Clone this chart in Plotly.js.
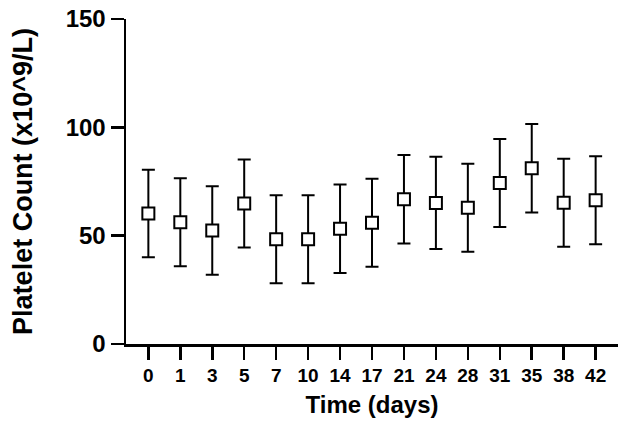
<!DOCTYPE html>
<html>
<head>
<meta charset="utf-8">
<script src="https://cdn.plot.ly/plotly-3.0.1.min.js"></script>
<style>
  html, body { margin: 0; padding: 0; background: #fff; }
  #chart { width: 624px; height: 429px; }
</style>
</head>
<body>
<div id="chart"></div>
<script>
// Time points (days) and platelet count mean +/- error
const days = ['0', '1', '3', '5', '7', '10', '14', '17', '21', '24', '28', '31', '35', '38', '42'];
const meanCount = [60.2, 56.2, 52.4, 64.8, 48.3, 48.3, 53.2, 56.0, 66.8, 65.1, 62.9, 74.3, 81.1, 65.2, 66.3];
const errCount = [20.2, 20.3, 20.4, 20.3, 20.3, 20.3, 20.4, 20.3, 20.4, 21.3, 20.3, 20.3, 20.4, 20.3, 20.3];
const yTicks = [0, 50, 100, 150];

const FONT = 'Liberation Sans, Arial, Helvetica, sans-serif';

const trace = {
    x: days,
    y: meanCount,
    type: 'scatter',
    mode: 'markers',
    marker: {
        symbol: 'square',
        size: 12,
        color: '#ffffff',
        line: { color: '#000000', width: 2 }
    },
    error_y: {
        type: 'data',
        array: errCount,
        symmetric: true,
        color: '#000000',
        thickness: 2,
        width: 6.5
    },
    hoverinfo: 'x+y',
    showlegend: false
};

const layout = {
    width: 624,
    height: 429,
    margin: { l: 126, r: 6, t: 19, b: 85 },
    paper_bgcolor: '#ffffff',
    plot_bgcolor: '#ffffff',
    font: { family: FONT, color: '#000000' },
    xaxis: {
        type: 'category',
        categoryorder: 'array',
        categoryarray: days,
        range: [-0.7, 14.7],
        showgrid: false,
        zeroline: false,
        showline: true,
        linecolor: '#000000',
        linewidth: 2.5,
        ticks: 'outside',
        ticklen: 13,
        tickwidth: 2.5,
        tickcolor: '#000000',
        tickfont: { family: FONT, size: 19, weight: 'bold', color: '#000000' },
        title: {
            text: 'Time (days)',
            font: { family: FONT, size: 24, weight: 'bold', color: '#000000' },
            standoff: 11
        }
    },
    yaxis: {
        range: [0, 150],
        tickvals: yTicks,
        ticktext: yTicks.map(String),
        showgrid: false,
        zeroline: false,
        showline: true,
        linecolor: '#000000',
        linewidth: 2.5,
        ticks: 'outside',
        ticklen: 13,
        tickwidth: 2.5,
        tickcolor: '#000000',
        tickfont: { family: FONT, size: 24, weight: 'bold', color: '#000000' },
        title: {
            text: 'Platelet Count (x10^9/L)',
            font: { family: FONT, size: 27, weight: 'bold', color: '#000000' },
            standoff: 25
        }
    }
};

Plotly.newPlot('chart', [trace], layout, { displayModeBar: false, staticPlot: true });
</script>
</body>
</html>
